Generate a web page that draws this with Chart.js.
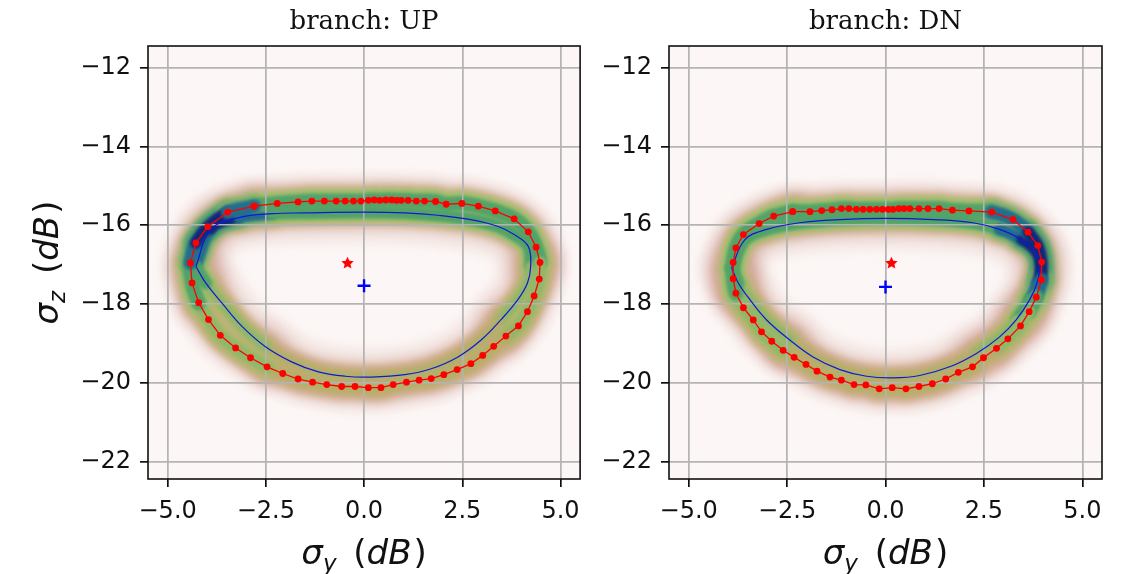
<!DOCTYPE html>
<html><head><meta charset="utf-8">
<script src="https://cdn.jsdelivr.net/npm/chart.js@4/dist/chart.umd.min.js"></script>
<style>
html,body{margin:0;padding:0;background:#fff;width:1129px;height:574px;overflow:hidden}
canvas{position:absolute;top:0}
#cA{left:0}
#cB{left:590px}
</style></head><body>
<canvas id="cA" width="590" height="574"></canvas>
<canvas id="cB" width="539" height="574"></canvas>
<script>
// ---------- data ----------
const panelTitles = ['branch: UP', 'branch: DN'];
const xTicks = [-5.0, -2.5, 0.0, 2.5, 5.0];
const yTicks = [-22, -20, -18, -16, -14, -12];
const xRange = [-5.5, 5.5];
const yRange = [-22.45, -11.45];

// UP branch: red dotted contour
const upRed = [
  [-2.80,-15.52],[-2.21,-15.45],[-1.68,-15.41],[-1.33,-15.39],[-1.01,-15.39],[-0.71,-15.39],
  [-0.48,-15.39],[-0.27,-15.39],[-0.08,-15.39],[0.11,-15.37],[0.26,-15.36],[0.40,-15.37],
  [0.55,-15.36],[0.70,-15.36],[0.83,-15.37],[0.95,-15.37],[1.12,-15.37],[1.33,-15.39],
  [1.54,-15.39],[1.82,-15.40],[2.09,-15.47],[2.49,-15.45],[2.91,-15.52],[3.34,-15.64],
  [3.82,-15.84],[4.18,-16.17],[4.38,-16.56],[4.48,-16.95],[4.46,-17.37],[4.33,-17.80],
  [4.16,-18.20],[3.93,-18.56],[3.61,-18.82],[3.30,-19.08],[3.02,-19.31],[2.72,-19.52],
  [2.37,-19.67],[2.03,-19.80],[1.71,-19.90],[1.40,-19.94],[1.08,-19.99],[0.74,-20.05],
  [0.43,-20.13],[0.11,-20.13],[-0.23,-20.10],[-0.57,-20.10],[-0.95,-20.05],[-1.31,-19.99],
  [-1.68,-19.91],[-2.07,-19.77],[-2.47,-19.60],[-2.89,-19.37],[-3.27,-19.12],[-3.66,-18.80],
  [-3.96,-18.40],[-4.21,-17.97],[-4.38,-17.47],[-4.42,-16.96],[-4.28,-16.45],[-3.98,-16.04],
  [-3.47,-15.67]
];
// UP branch: density level of the band at each red point (1 sparse .. 5 dense)
const upDensity = [
  3,3,3,3,3,3, 3,3,3,3,3,3, 3,3,3,3,3,3, 3,3,3,3,3,3, 3,3,3,2,2,2,
  2,2,1,1,1,1, 1,1,1,1,1,1, 1,1,1,1,1,1, 1,1,2,2,2,2, 2,3,3,4,5,5, 4
];
// UP branch: thin blue contour
const upBlue = [
  [-4.28,-17.05],[-3.90,-16.11],[-3.18,-15.81],[-2.34,-15.71],[-1.49,-15.69],[0.03,-15.67],
  [1.04,-15.69],[1.88,-15.75],[2.72,-15.86],[3.40,-16.03],[3.82,-16.24],[4.18,-16.54],
  [4.24,-17.05],[4.16,-17.47],[3.91,-17.90],[3.48,-18.41],[2.98,-18.92],[2.39,-19.35],
  [1.71,-19.65],[1.04,-19.80],[0.19,-19.86],[-0.48,-19.84],[-1.16,-19.73],[-1.83,-19.48],
  [-2.51,-19.09],[-3.10,-18.58],[-3.61,-17.99],[-4.03,-17.47]
];
const upStar = [[-0.42,-16.95]];
const upPlus = [[0.00,-17.54]];

// DN branch
const dnRed = [
  [-2.36,-15.66],[-1.92,-15.66],[-1.62,-15.63],[-1.36,-15.61],[-1.12,-15.58],[-0.93,-15.58],
  [-0.74,-15.60],[-0.57,-15.60],[-0.40,-15.60],[-0.23,-15.60],[-0.08,-15.60],[0.07,-15.60],
  [0.19,-15.60],[0.34,-15.58],[0.47,-15.58],[0.62,-15.58],[0.85,-15.58],[1.08,-15.58],
  [1.36,-15.58],[1.70,-15.62],[2.12,-15.64],[2.70,-15.67],[3.24,-15.86],[3.62,-16.18],
  [3.87,-16.52],[3.97,-16.94],[3.96,-17.39],[3.83,-17.83],[3.65,-18.20],[3.43,-18.56],
  [3.11,-18.89],[2.82,-19.13],[2.49,-19.37],[2.21,-19.60],[1.85,-19.74],[1.53,-19.91],
  [1.19,-20.03],[0.85,-20.10],[0.52,-20.16],[0.17,-20.13],[-0.16,-20.16],[-0.50,-20.06],
  [-0.80,-20.05],[-1.12,-19.94],[-1.41,-19.86],[-1.74,-19.71],[-2.02,-19.54],[-2.32,-19.36],
  [-2.60,-19.18],[-2.89,-18.95],[-3.15,-18.71],[-3.36,-18.41],[-3.61,-18.10],[-3.80,-17.73],
  [-3.87,-17.36],[-3.87,-16.95],[-3.80,-16.58],[-3.61,-16.24],[-3.21,-15.96],[-2.84,-15.77]
];
const dnDensity = [
  3,3,3,3,3,3, 3,3,3,3,3,3, 3,3,3,3,3,3, 3,3,3,4,4,5, 5,5,4,3,2,2,
  2,1,1,1,1,1, 1,1,1,1,1,1, 1,1,1,1,1,1, 2,2,2,2,2,3, 3,3,3,3,3,3
];
const dnBlue = [
  [-3.91,-17.09],[-3.57,-16.37],[-3.02,-16.11],[-2.18,-15.94],[-1.16,-15.86],[0.03,-15.83],
  [1.21,-15.86],[2.22,-15.94],[2.90,-16.11],[3.45,-16.37],[3.83,-16.71],[3.92,-17.05],
  [3.85,-17.47],[3.66,-17.90],[3.32,-18.41],[2.90,-18.84],[2.31,-19.26],[1.63,-19.60],
  [0.87,-19.82],[0.19,-19.88],[-0.48,-19.84],[-1.16,-19.67],[-1.84,-19.35],[-2.43,-18.92],
  [-3.02,-18.41],[-3.44,-17.90],[-3.74,-17.47]
];
const dnStar = [[0.15,-16.95]];
const dnPlus = [[0.00,-17.57]];

// ---------- styling ----------
const levelStyle = {
  glow:  [null, {c:'rgba(200,140,125,0.32)', w:40}, {c:'rgba(200,140,125,0.33)', w:42}, {c:'rgba(200,140,125,0.34)', w:44}, {c:'rgba(200,140,125,0.34)', w:44}, {c:'rgba(200,140,125,0.34)', w:44}],
  outer: [null, {c:'#cfae8e', w:28}, {c:'#cdb08c', w:30}, {c:'#cab38a', w:32}, {c:'#c4b588', w:32}, {c:'#bdb686', w:32}],
  mid:   [null, {c:'#bfac70', w:18}, {c:'#b0b66c', w:22}, {c:'#a0bd6d', w:24}, {c:'#7cb16c', w:24}, {c:'#53a06e', w:24}],
  core:  [null, {c:'#b0b06a', w:9},  {c:'#90b76a', w:12}, {c:'#52a368', w:15}, {c:'#236e8c', w:14}, {c:'#11287a', w:12}]
};

const fmt = (v, d) => (v < 0 ? '\u2212' : '') + Math.abs(v).toFixed(d);
const toPts = arr => arr.map(p => ({x: p[0], y: p[1]}));
const closed = arr => toPts(arr.concat([arr[0]]));

function nearestLevels(curve, red, dens) {
  return curve.map(([x, y]) => {
    let best = 0, bd = Infinity;
    red.forEach(([rx, ry], i) => { const d = (rx - x) ** 2 + (ry - y) ** 2; if (d < bd) { bd = d; best = i; } });
    return dens[best];
  });
}

function starImage(color, size) {
  const c = document.createElement('canvas');
  c.width = c.height = size;
  const g = c.getContext('2d');
  g.fillStyle = color;
  g.beginPath();
  const cx = size / 2, cy = size / 2 + 0.7, R = size / 2, r = R * 0.48;
  for (let i = 0; i < 10; i++) {
    const a = -Math.PI / 2 + i * Math.PI / 5, rr = i % 2 ? r : R;
    g.lineTo(cx + rr * Math.cos(a), cy + rr * Math.sin(a));
  }
  g.closePath(); g.fill();
  return c;
}

function bandLayer(curve, levels, layer, blur, alpha, order, scale, gridAfter) {
  const n = curve.length;
  return {
    data: closed(curve), showLine: true, pointRadius: 0, tension: 0.35, fill: false,
    borderCapStyle: 'round', borderJoinStyle: 'round',
    borderColor: levelStyle[layer][3].c, borderWidth: levelStyle[layer][3].w * scale,
    segment: {
      borderColor: ctx => levelStyle[layer][levels[ctx.p0DataIndex % n]].c,
      borderWidth: ctx => levelStyle[layer][levels[ctx.p0DataIndex % n]].w * scale
    },
    fxBlur: blur, fxAlpha: alpha, fxGrid: !!gridAfter, order
  };
}

const fxPlugin = {
  id: 'fx',
  beforeDraw(chart) {
    const a = chart.chartArea, ctx = chart.ctx;
    ctx.save(); ctx.fillStyle = '#fcf7f6'; ctx.fillRect(a.left, a.top, a.right - a.left, a.bottom - a.top); ctx.restore();
  },
  beforeDatasetDraw(chart, args) {
    const ds = chart.data.datasets[args.index];
    if (ds.fxBlur !== undefined) {
      chart.ctx.save();
      chart.ctx.filter = 'blur(' + ds.fxBlur + 'px)';
      chart.ctx.globalAlpha = ds.fxAlpha;
    }
  },
  afterDatasetDraw(chart, args) {
    const ds = chart.data.datasets[args.index];
    if (ds.fxBlur !== undefined) chart.ctx.restore();
    if (ds.fxGrid) {
      // grid lines sit above the density band, below the contours
      chart.scales.x.drawGrid(chart.chartArea);
      chart.scales.y.drawGrid(chart.chartArea);
    }
  },
  afterDraw(chart, args, opts) {
    const a = chart.chartArea, ctx = chart.ctx;
    ctx.save();
    ctx.strokeStyle = '#111'; ctx.lineWidth = 1.6;
    ctx.strokeRect(a.left, a.top, a.right - a.left, a.bottom - a.top);
    const drawMath = (parts, x, y) => {
      let w = 0;
      parts.forEach(p => { ctx.font = p.f; p.w = ctx.measureText(p.t).width + (p.gap || 0); w += p.w; });
      let cx = x - w / 2;
      ctx.fillStyle = '#111'; ctx.textBaseline = 'alphabetic'; ctx.textAlign = 'left';
      parts.forEach(p => { ctx.font = p.f; ctx.fillText(p.t, cx + (p.pre || 0), y + (p.dy || 0)); cx += p.w; });
    };
    const lab = sub => [
      {t: 'σ', f: 'italic 34px "DejaVu Sans"'},
      {t: sub, f: 'italic 23px "DejaVu Sans"', dy: 7, gap: 1},
      {t: ' (', f: '34px "DejaVu Sans"', pre: 5, gap: 5},
      {t: 'dB', f: 'italic 34px "DejaVu Sans"'},
      {t: ')', f: '34px "DejaVu Sans"', pre: 2, gap: 2}
    ];
    drawMath(lab('y'), (a.left + a.right) / 2, 564);
    if (opts.yLabel) {
      ctx.translate(58, (a.top + a.bottom) / 2);
      ctx.rotate(-Math.PI / 2);
      drawMath(lab('z'), 0, 0);
    }
    ctx.restore();
  }
};

function makePanel(id, title, red, dens, blue, star, plus, yWidth, padRight, yLabel) {
  const blueLv = nearestLevels(blue, red, dens);
  const datasets = [
    {data: toPts(star), pointStyle: starImage('#ff0000', 13), pointRadius: 6, showLine: false, order: 0},
    {data: toPts(plus), pointStyle: 'cross', pointRadius: 6.5, pointBorderWidth: 2.4, borderColor: '#0000ff', backgroundColor: '#0000ff', showLine: false, order: 0},
    {data: closed(red), showLine: true, borderColor: '#ff0000', borderWidth: 1.3, pointRadius: 3.4, pointBackgroundColor: '#ff0000', pointBorderWidth: 0, order: 1},
    {data: closed(blue), showLine: true, borderColor: '#1515d8', borderWidth: 1.2, pointRadius: 0, tension: 0.4, order: 2},
    bandLayer(red, dens, 'core', 1.6, 1, 3, 1, true),
    bandLayer(blue, blueLv, 'core', 1.6, 1, 4, 0.85),
    bandLayer(red, dens, 'mid', 2.2, 1, 5, 1),
    bandLayer(blue, blueLv, 'mid', 2.2, 1, 6, 0.85),
    bandLayer(red, dens, 'outer', 3, 0.95, 7, 1),
    bandLayer(blue, blueLv, 'outer', 3, 0.95, 8, 0.9),
    bandLayer(red, dens, 'glow', 7, 1, 9, 1),
    bandLayer(blue, blueLv, 'glow', 9, 1, 10, 1.1)
  ];
  const tickFont = {family: 'DejaVu Sans', size: 24};
  return new Chart(document.getElementById(id), {
    type: 'scatter',
    data: {datasets},
    plugins: [fxPlugin],
    options: {
      responsive: false, animation: false, events: [],
      layout: {padding: {left: 0, top: 0, right: padRight, bottom: 0}},
      plugins: {
        legend: {display: false}, tooltip: {enabled: false},
        title: {display: true, text: title, fullSize: false, color: '#111',
          font: {family: 'DejaVu Serif', size: 26, weight: 'normal', lineHeight: 1.2},
          padding: {top: 7, bottom: 7.8}},
        fx: {yLabel}
      },
      scales: {
        x: {
          type: 'linear', min: xRange[0], max: xRange[1],
          afterBuildTicks: s => { s.ticks = xTicks.map(v => ({value: v})); },
          afterFit: s => { s.height = 95; },
          ticks: {callback: v => fmt(v, 1), font: tickFont, color: '#111', padding: 10, maxRotation: 0, autoSkip: false},
          grid: {color: '#b4b4b4', lineWidth: 1.5, tickColor: '#111', tickLength: 8, tickWidth: 1.4},
          border: {display: false}
        },
        y: {
          type: 'linear', min: yRange[0], max: yRange[1],
          afterBuildTicks: s => { s.ticks = yTicks.map(v => ({value: v})); },
          afterFit: s => { s.width = yWidth; },
          ticks: {callback: v => fmt(v, 0), font: tickFont, color: '#111', padding: 9, autoSkip: false},
          grid: {color: '#b4b4b4', lineWidth: 1.5, tickColor: '#111', tickLength: 8, tickWidth: 1.4},
          border: {display: false}
        }
      }
    }
  });
}

makePanel('cA', panelTitles[0], upRed, upDensity, upBlue, upStar, upPlus, 148, 7, true);
makePanel('cB', panelTitles[1], dnRed, dnDensity, dnBlue, dnStar, dnPlus, 79, 27, false);
</script>
</body></html>
